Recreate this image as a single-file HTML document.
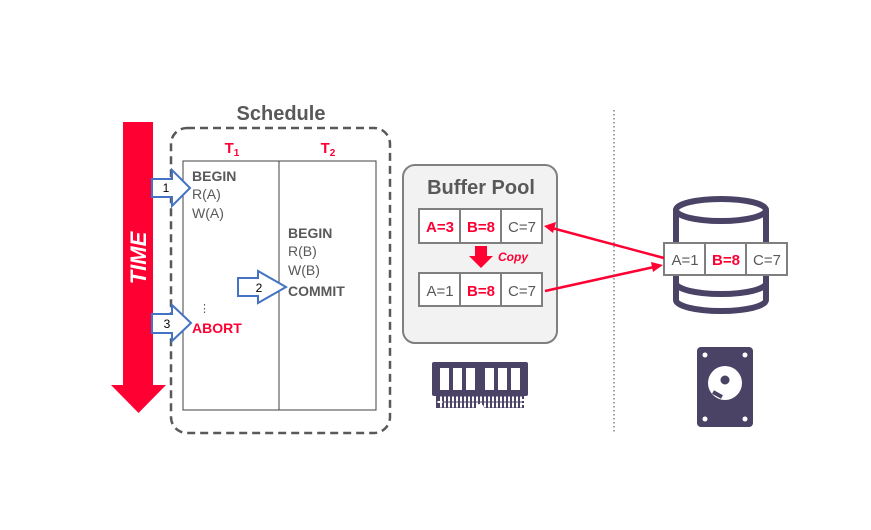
<!DOCTYPE html>
<html><head><meta charset="utf-8"><style>
html,body{margin:0;padding:0;background:#fff;width:871px;height:530px;overflow:hidden}
svg text{font-family:"Liberation Sans",sans-serif}
</style></head><body>
<svg width="871" height="530" viewBox="0 0 871 530" xmlns="http://www.w3.org/2000/svg">
<polygon points="123,122 153,122 153,385 166,385 138.5,413 111,385 123,385" fill="#ff0033"/>
<text x="0" y="0" transform="translate(146,258) rotate(-90)" text-anchor="middle" font-size="22" font-weight="bold" font-style="italic" fill="#fff">TIME</text>
<text x="281" y="120" text-anchor="middle" font-size="20" font-weight="bold" fill="#595959">Schedule</text>
<rect x="171" y="128" width="219" height="305" rx="16" fill="none" stroke="#595959" stroke-width="2.5" stroke-dasharray="8,5"/>
<rect x="183" y="161" width="193" height="249" fill="#fff" stroke="#404040" stroke-width="1"/>
<line x1="279" y1="161" x2="279" y2="410" stroke="#404040" stroke-width="1"/>
<text x="232" y="153" text-anchor="middle" font-size="15" font-weight="bold" fill="#ff0033">T<tspan font-size="10" dy="3">1</tspan></text>
<text x="328" y="153" text-anchor="middle" font-size="15" font-weight="bold" fill="#ff0033">T<tspan font-size="10" dy="3">2</tspan></text>
<g font-size="14" fill="#595959">
<text x="192" y="181" font-weight="bold">BEGIN</text>
<text x="192" y="199">R(A)</text>
<text x="192" y="218">W(A)</text>
<text x="288" y="238" font-weight="bold">BEGIN</text>
<text x="288" y="256">R(B)</text>
<text x="288" y="275">W(B)</text>
<text x="288" y="296" font-weight="bold">COMMIT</text>
<text x="199" y="312" font-size="11">⋮</text>
<text x="192" y="333" font-weight="bold" fill="#ff0033">ABORT</text>
</g>
<g fill="#fff" stroke="#4472c4" stroke-width="2">
<polygon points="152,179 172,179 172,170 190,188 172,206 172,197 152,197"/>
<polygon points="238,278 258,278 258,271 286,287 258,303 258,296 238,296"/>
<polygon points="152,314 172,314 172,305 191,323 172,341 172,333 152,333"/>
</g>
<g font-size="12" fill="#000" text-anchor="middle">
<text x="166" y="192">1</text><text x="259" y="292">2</text><text x="167" y="328">3</text>
</g>
<rect x="403" y="165" width="154" height="178" rx="12" fill="#f2f2f2" stroke="#7f7f7f" stroke-width="2"/>
<text x="481" y="194" text-anchor="middle" font-size="20" font-weight="bold" fill="#595959">Buffer Pool</text>
<g fill="none" stroke="#4a4366" stroke-width="6">
<ellipse cx="721" cy="210" rx="45" ry="11"/>
<path d="M676,210 V300 A45,11 0 0 0 766,300 V210"/>
<path d="M676,283 A45,11 0 0 0 766,283"/>
</g>
<g stroke="#7f7f7f" stroke-width="2" fill="#fff">
<rect x="419" y="209" width="41" height="34"/><rect x="460" y="209" width="41" height="34"/><rect x="501" y="209" width="41" height="34"/>
<rect x="419" y="273" width="41" height="33"/><rect x="460" y="273" width="41" height="33"/><rect x="501" y="273" width="41" height="33"/>
<rect x="664" y="243" width="41" height="32"/><rect x="705" y="243" width="41" height="32"/><rect x="746" y="243" width="41" height="32"/>
</g>
<g font-size="15" text-anchor="middle" fill="#595959">
<text x="440" y="232" font-weight="bold" fill="#ff0033">A=3</text>
<text x="481" y="232" font-weight="bold" fill="#ff0033">B=8</text>
<text x="522" y="232">C=7</text>
<text x="440" y="296">A=1</text>
<text x="481" y="296" font-weight="bold" fill="#ff0033">B=8</text>
<text x="522" y="296">C=7</text>
<text x="685" y="265">A=1</text>
<text x="726" y="265" font-weight="bold" fill="#ff0033">B=8</text>
<text x="767" y="265">C=7</text>
</g>
<polygon points="475,246 487,246 487,256 493,256 481,268 469,256 475,256" fill="#ff0033"/>
<text x="498" y="261" font-size="12" font-weight="bold" font-style="italic" fill="#ff0033">Copy</text>
<g stroke="#ff0033" stroke-width="2.5">
<line x1="664" y1="258" x2="552" y2="228"/>
<line x1="545" y1="291" x2="654" y2="267"/>
</g>
<polygon points="544,226 556,222 553,233" fill="#ff0033"/>
<polygon points="663,265 651,262 653,272" fill="#ff0033"/>
<line x1="614" y1="110" x2="614" y2="432" stroke="#808080" stroke-width="1.5" stroke-dasharray="1.5,2.5"/>
<g fill="#4a4366">
<rect x="432" y="362" width="96" height="34" rx="2"/>
<rect x="436" y="396" width="88" height="12"/>
</g>
<g fill="#fff">
<rect x="440" y="368" width="9" height="22"/><rect x="453" y="368" width="9" height="22"/><rect x="466" y="368" width="9" height="22"/>
<rect x="485" y="368" width="9" height="22"/><rect x="498" y="368" width="9" height="22"/><rect x="511" y="368" width="9" height="22"/>
<rect x="440" y="399" width="84" height="6" fill="none" stroke="#fff" stroke-dasharray="2,2" stroke-width="5"/>
<circle cx="480" cy="408" r="4"/>
</g>
<rect x="697" y="347" width="56" height="80" rx="4" fill="#4a4366"/>
<g fill="#fff">
<circle cx="705" cy="355" r="2.5"/><circle cx="745" cy="355" r="2.5"/><circle cx="705" cy="419" r="2.5"/><circle cx="745" cy="419" r="2.5"/>
<circle cx="725" cy="383" r="17"/>
</g>
<circle cx="725" cy="380" r="4.5" fill="#4a4366"/>
<path d="M713,392 L722,397" stroke="#4a4366" stroke-width="4"/>
</svg>
</body></html>
